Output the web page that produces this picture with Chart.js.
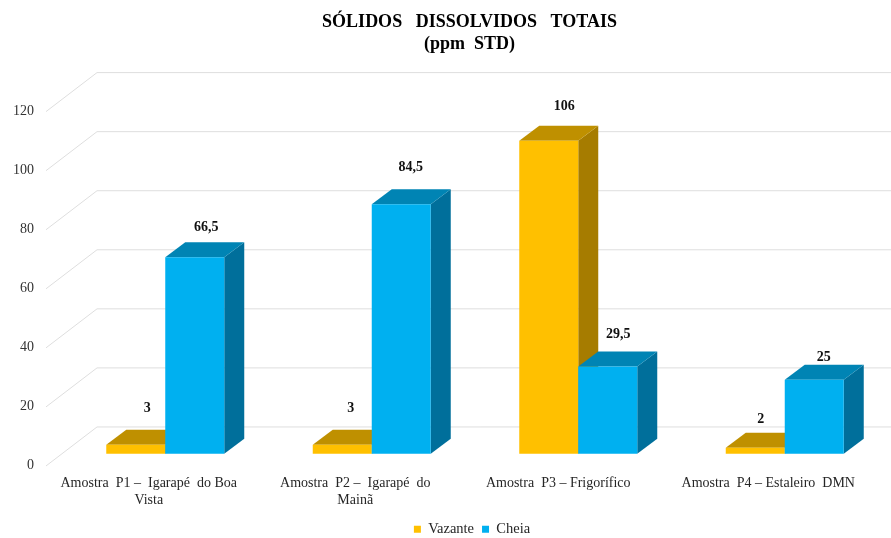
<!DOCTYPE html>
<html>
<head>
<meta charset="utf-8">
<style>html,body{margin:0;padding:0;background:#fff}canvas{display:block}</style>
<script src="https://cdn.jsdelivr.net/npm/chart.js@4/dist/chart.umd.js"></script>
</head>
<body>
<canvas id="c" width="891" height="538"></canvas>
<script>
const categories = [
  ["Amostra  P1 –  Igarapé  do Boa", "Vista"],
  ["Amostra  P2 –  Igarapé  do", "Mainã"],
  "Amostra  P3 – Frigorífico  ",
  "Amostra  P4 – Estaleiro  DMN"
];
const vazante = [3, 3, 106, 2];
const cheia = [66.5, 84.5, 29.5, 25];
const yTicks = [0, 20, 40, 60, 80, 100, 120];
const titleLines = ["SÓLIDOS   DISSOLVIDOS   TOTAIS", "(ppm  STD)"];

const FONT = "'Liberation Serif','Times New Roman',serif";
const DEPTH_X = 20, DEPTH_Y = 15;
const WALL_BACK = 26.7, WALL_FRONT = 12.3, WALL_LEFT = 16;
const labelNudge = {
  0: [[11.5, 36], [8.5, 36], [15.5, 34], [5.5, 28]],
  1: [[11.5, 30], [9.5, 37], [10.5, 32], [9.5, 22]]
};
const faces = {
  0: {top: "#BF9000", side: "#A67C00"},
  1: {top: "#0084B4", side: "#006F9B"}
};

function drawFaces(chart, meta, face) {
  const {ctx} = chart;
  ctx.save();
  meta.data.forEach(bar => {
    const l = bar.x - bar.width / 2, r = bar.x + bar.width / 2;
    const t = bar.y, b = bar.base;
    ctx.fillStyle = face.side;
    ctx.beginPath();
    ctx.moveTo(r, t);
    ctx.lineTo(r + DEPTH_X, t - DEPTH_Y);
    ctx.lineTo(r + DEPTH_X, b - DEPTH_Y);
    ctx.lineTo(r, b);
    ctx.closePath();
    ctx.fill();
    ctx.fillStyle = face.top;
    ctx.beginPath();
    ctx.moveTo(l, t);
    ctx.lineTo(l + DEPTH_X, t - DEPTH_Y);
    ctx.lineTo(r + DEPTH_X, t - DEPTH_Y);
    ctx.lineTo(r, t);
    ctx.closePath();
    ctx.fill();
  });
  ctx.restore();
}

const depthPlugin = {
  id: "depth",
  afterLayout(chart) {
    // the title and legend sit off the canvas centre in the reference
    chart.titleBlock.left = 51;
    chart.legend.left = 56;
    chart.legend.top += 8.5;
    chart.legend.bottom += 8.5;
  },
  beforeDatasetsDraw(chart) {
    const {ctx, chartArea, scales: {y}} = chart;
    ctx.save();
    ctx.strokeStyle = "#DEDEDE";
    ctx.lineWidth = 1;
    const backX = chartArea.left + 35;
    const frontX = chartArea.left - WALL_LEFT;
    yTicks.forEach(v => {
      const p = y.getPixelForValue(v);
      ctx.beginPath();
      ctx.moveTo(frontX, p + WALL_FRONT);
      ctx.lineTo(backX, p - WALL_BACK);
      ctx.lineTo(chart.width, p - WALL_BACK);
      ctx.stroke();
    });
    ctx.restore();
  },
  beforeDatasetDraw(chart, args) {
    // Chart.js paints the last dataset first: paint Vazante ahead of Cheia
    // so that Cheia's front face covers Vazante's side face.
    if (args.index === 0) return false;
    const first = chart.getDatasetMeta(0);
    drawFaces(chart, first, faces[0]);
    first.controller.draw();
    drawFaces(chart, args.meta, faces[args.index]);
  },
  afterDatasetsDraw(chart) {
    const {ctx} = chart;
    ctx.save();
    ctx.font = "bold 14px " + FONT;
    ctx.fillStyle = "#111";
    ctx.textAlign = "center";
    ctx.textBaseline = "middle";
    chart.data.datasets.forEach((ds, di) => {
      chart.getDatasetMeta(di).data.forEach((bar, i) => {
        const [nx, ny] = labelNudge[di][i];
        ctx.fillText(String(ds.data[i]).replace(".", ","), bar.x + nx, bar.y - ny);
      });
    });
    ctx.restore();
  }
};

new Chart(document.getElementById("c"), {
  type: "bar",
  plugins: [depthPlugin],
  data: {
    labels: categories,
    datasets: [
      {label: "Vazante", data: vazante, backgroundColor: "#FFC000", yAxisID: "y"},
      {label: "Cheia", data: cheia, backgroundColor: "#00B0F0", yAxisID: "y"}
    ]
  },
  options: {
    responsive: false,
    animation: false,
    layout: {padding: {left: 0, right: 3, top: 0, bottom: 0}},
    datasets: {bar: {barPercentage: 1, categoryPercentage: 0.5714, borderWidth: 0}},
    scales: {
      x: {
        grid: {display: false, drawTicks: false},
        border: {display: false},
        afterFit(s) { s.height = 39.5; },
        ticks: {
          maxRotation: 0, autoSkip: false, padding: 8.5, labelOffset: -16.5,
          font: {family: FONT, size: 14, lineHeight: 1.25},
          color: "#262626"
        }
      },
      y: {display: false, min: -4.18, max: 120},
      y2: {
        position: "left",
        min: -0.34, max: 124.2,
        grid: {display: false},
        border: {display: false},
        afterFit(s) { s.width = 62; },
        afterBuildTicks(s) { s.ticks = yTicks.map(v => ({value: v})); },
        ticks: {padding: 20, font: {family: FONT, size: 14}, color: "#333"}
      }
    },
    plugins: {
      title: {
        display: true,
        text: titleLines,
        color: "#000",
        font: {family: FONT, size: 18, weight: "bold", lineHeight: 1.22},
        padding: {top: 11, bottom: 44.4}
      },
      legend: {
        position: "bottom",
        labels: {
          boxWidth: 7, boxHeight: 7, padding: 8,
          color: "#262626",
          font: {family: FONT, size: 14.5}
        }
      },
      tooltip: {enabled: false}
    }
  }
});
</script>
</body>
</html>
